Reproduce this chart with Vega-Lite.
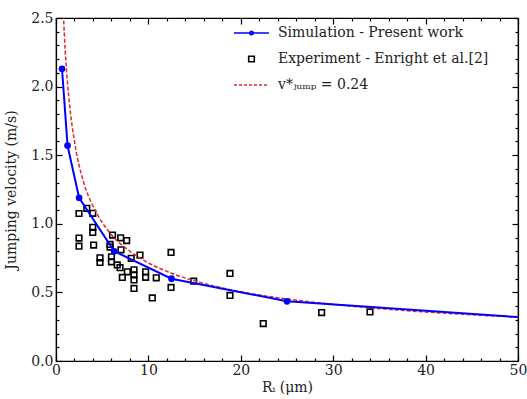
{
  "$schema": "https://vega.github.io/schema/vega-lite/v6.json",
  "width": 462,
  "height": 343,
  "autosize": {"type": "none"},
  "padding": {"left": 56, "top": 18, "right": 9, "bottom": 38},
  "background": "white",
  "config": {
    "view": {"stroke": "black", "strokeWidth": 1.2},
    "font": "DejaVu Serif",
    "axis": {"labelFont": "DejaVu Serif", "titleFont": "DejaVu Serif", "labelFontSize": 14, "titleFontSize": 14, "titleFontWeight": "normal", "labelColor": "#222", "titleColor": "#222", "domainColor": "black", "tickColor": "black", "grid": false},
    "legend": {"orient": "none", "legendX": 177, "legendY": -3.5, "title": null, "labelFont": "DejaVu Serif", "labelFontSize": 14, "labelColor": "#222", "labelLimit": 400,
      "symbolSize": 1225, "symbolStrokeWidth": 1.6, "labelOffset": 8, "rowPadding": -21.5, "padding": 0}
  },
  "datasets": {
    "sim": [
      {"R": 0.65, "v": 2.13}, {"R": 1.25, "v": 1.57}, {"R": 2.5, "v": 1.19}, {"R": 6.3, "v": 0.80},
      {"R": 12.5, "v": 0.60}, {"R": 25.0, "v": 0.435}, {"R": 50.0, "v": 0.32}
    ],
    "exp": [
      {"R": 2.49, "v": 1.075}, {"R": 3.33, "v": 1.113}, {"R": 3.98, "v": 1.076}, {"R": 3.98, "v": 0.974},
      {"R": 3.98, "v": 0.937}, {"R": 2.49, "v": 0.896}, {"R": 2.49, "v": 0.837}, {"R": 4.07, "v": 0.845},
      {"R": 4.76, "v": 0.752}, {"R": 4.76, "v": 0.718}, {"R": 6.12, "v": 0.918}, {"R": 7.0, "v": 0.898},
      {"R": 7.65, "v": 0.878}, {"R": 5.85, "v": 0.85}, {"R": 5.85, "v": 0.83}, {"R": 7.03, "v": 0.81},
      {"R": 9.09, "v": 0.772}, {"R": 6.0, "v": 0.76}, {"R": 6.0, "v": 0.723}, {"R": 6.63, "v": 0.70},
      {"R": 6.93, "v": 0.68}, {"R": 7.72, "v": 0.65}, {"R": 8.44, "v": 0.665}, {"R": 8.44, "v": 0.628},
      {"R": 8.44, "v": 0.591}, {"R": 8.44, "v": 0.529}, {"R": 7.18, "v": 0.609}, {"R": 9.7, "v": 0.65},
      {"R": 9.7, "v": 0.61}, {"R": 10.85, "v": 0.606}, {"R": 10.42, "v": 0.46}, {"R": 8.14, "v": 0.748},
      {"R": 12.45, "v": 0.791}, {"R": 12.45, "v": 0.536}, {"R": 14.9, "v": 0.582}, {"R": 18.83, "v": 0.638},
      {"R": 18.83, "v": 0.478}, {"R": 22.43, "v": 0.273}, {"R": 28.75, "v": 0.353}, {"R": 33.98, "v": 0.358}
    ],
    "theory": [
      {"R": 0.7, "v": 2.70}, {"R": 0.8, "v": 2.53}, {"R": 1.0, "v": 2.26}, {"R": 1.5, "v": 1.85},
      {"R": 2.0, "v": 1.60}, {"R": 3.0, "v": 1.30}, {"R": 4.0, "v": 1.13}, {"R": 5.0, "v": 1.01},
      {"R": 6.0, "v": 0.92}, {"R": 8.0, "v": 0.80}, {"R": 10.0, "v": 0.715}, {"R": 12.5, "v": 0.64},
      {"R": 15.0, "v": 0.584}, {"R": 20.0, "v": 0.505}, {"R": 25.0, "v": 0.452}, {"R": 30.0, "v": 0.413},
      {"R": 35.0, "v": 0.382}, {"R": 40.0, "v": 0.357}, {"R": 45.0, "v": 0.337}, {"R": 50.0, "v": 0.32}
    ]
  },
  "resolve": {"axis": {"x": "independent", "y": "independent"}},
  "layer": [
    {
      "data": {"name": "exp"},
      "transform": [{"calculate": "'Experiment - Enright et al.[2]'", "as": "series"}],
      "mark": {"type": "point", "filled": false, "size": 1225, "strokeWidth": 1.6, "opacity": 1},
      "encoding": {
        "x": {"field": "R", "type": "quantitative", "scale": {"domain": [0, 50], "nice": false, "zero": false},
          "axis": {"orient": "bottom", "title": "Rᵢ (μm)", "titlePadding": 3, "values": [0,2,4,6,8,10,12,14,16,18,20,22,24,26,28,30,32,34,36,38,40,42,44,46,48,50],
            "labelExpr": "datum.value % 10 === 0 ? datum.label : ''", "labelPadding": 8, "labelFlush": false, "domainWidth": 1.2,
            "tickSize": {"condition": {"test": "datum.value % 10 === 0", "value": -6}, "value": -3}, "tickWidth": 1.2}},
        "y": {"field": "v", "type": "quantitative", "scale": {"domain": [0, 2.5], "nice": false},
          "axis": {"orient": "left", "title": "Jumping velocity (m/s)", "titlePadding": 12, "values": [0,0.1,0.2,0.3,0.4,0.5,0.6,0.7,0.8,0.9,1.0,1.1,1.2,1.3,1.4,1.5,1.6,1.7,1.8,1.9,2.0,2.1,2.2,2.3,2.4,2.5],
            "labelExpr": "round(datum.value*10) % 5 === 0 ? format(datum.value, '.1f') : ''", "labelPadding": 9, "labelFlush": false, "domainWidth": 1.2,
            "tickSize": {"condition": {"test": "round(datum.value*10) % 5 === 0", "value": -6}, "value": -3}, "tickWidth": 1.2}},
        "color": {"field": "series", "type": "nominal",
          "scale": {"domain": ["Simulation - Present work", "Experiment - Enright et al.[2]", "v*ⱼᵤₘₚ  = 0.24"], "range": ["#0000ff", "#000000", "#e3262b"]},
          "legend": {"title": null}},
        "shape": {"field": "series", "type": "nominal",
          "scale": {"domain": ["Simulation - Present work", "Experiment - Enright et al.[2]", "v*ⱼᵤₘₚ  = 0.24"],
            "range": ["M-1,0H1M-0.1,0A0.1,0.1 0 1,1 0.1,0A0.1,0.1 0 1,1 -0.1,0Z", "M-0.16,-0.16H0.16V0.16H-0.16Z", "M-1,0H1"]},
          "legend": {"title": null}},
        "strokeDash": {"field": "series", "type": "nominal",
          "scale": {"domain": ["Simulation - Present work", "Experiment - Enright et al.[2]", "v*ⱼᵤₘₚ  = 0.24"], "range": [[1, 0], [1, 0], [3, 2]]},
          "legend": {"title": null}}
      }
    },
    {
      "data": {"name": "theory"},
      "mark": {"type": "line", "clip": true, "color": "#e3262b", "strokeDash": [4, 2], "strokeWidth": 1.5, "interpolate": "monotone"},
      "encoding": {
        "x": {"field": "R", "type": "quantitative",
          "axis": {"orient": "top", "title": null, "values": [0,2,4,6,8,10,12,14,16,18,20,22,24,26,28,30,32,34,36,38,40,42,44,46,48,50], "labels": false, "domainWidth": 1.2,
            "tickSize": {"condition": {"test": "datum.value % 10 === 0", "value": -6}, "value": -3}, "tickWidth": 1.2}},
        "y": {"field": "v", "type": "quantitative",
          "axis": {"orient": "right", "title": null, "values": [0,0.1,0.2,0.3,0.4,0.5,0.6,0.7,0.8,0.9,1.0,1.1,1.2,1.3,1.4,1.5,1.6,1.7,1.8,1.9,2.0,2.1,2.2,2.3,2.4,2.5], "labels": false, "domainWidth": 1.2,
            "tickSize": {"condition": {"test": "round(datum.value*10) % 5 === 0", "value": -6}, "value": -3}, "tickWidth": 1.2}}
      }
    },
    {
      "data": {"name": "sim"},
      "mark": {"type": "line", "clip": true, "color": "#0000ff", "strokeWidth": 2},
      "encoding": {
        "x": {"field": "R", "type": "quantitative", "axis": null},
        "y": {"field": "v", "type": "quantitative", "axis": null}
      }
    },
    {
      "data": {"name": "sim"},
      "transform": [{"filter": "datum.R < 50"}],
      "mark": {"type": "point", "shape": "circle", "filled": true, "color": "#0000ff", "size": 45, "opacity": 1, "clip": true},
      "encoding": {
        "x": {"field": "R", "type": "quantitative", "axis": null},
        "y": {"field": "v", "type": "quantitative", "axis": null}
      }
    }
  ]
}
